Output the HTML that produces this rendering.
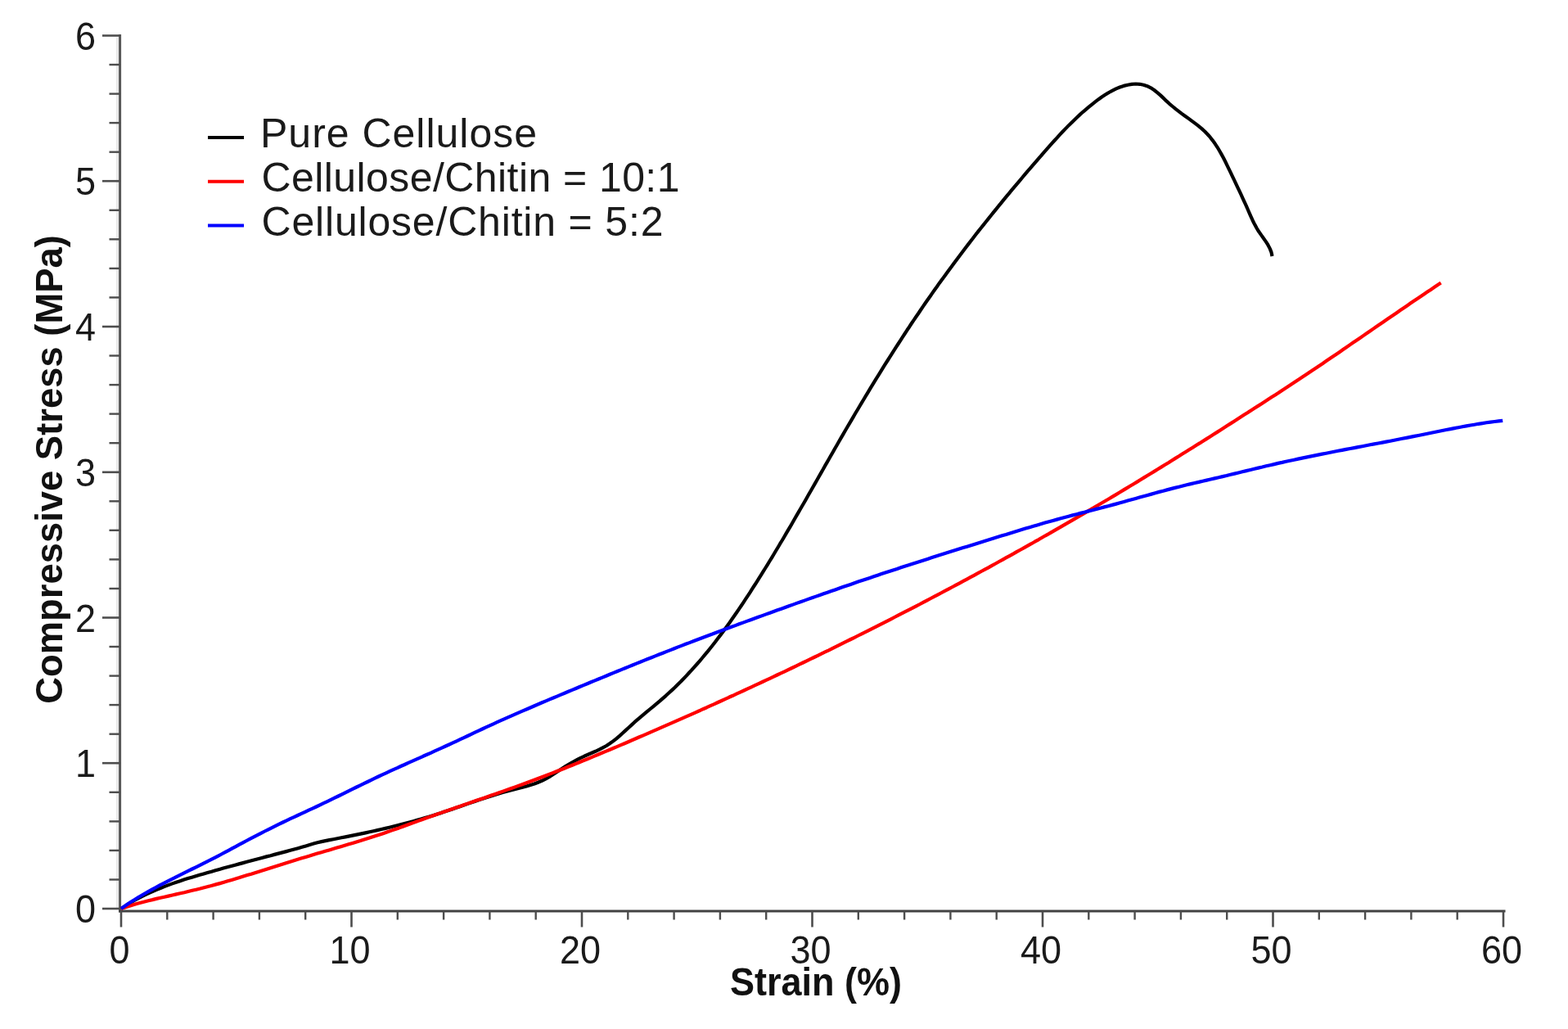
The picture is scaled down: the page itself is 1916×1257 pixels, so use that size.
<!DOCTYPE html>
<html><head><meta charset="utf-8"><title>Compressive stress-strain curves</title><style>
html,body{margin:0;padding:0;background:#fff;width:1916px;height:1257px;overflow:hidden}
svg{display:block}
.tl{font-family:"Liberation Sans",Arial,Helvetica,sans-serif;font-size:45px;fill:#1a1a1a}
.tt{font-family:"Liberation Sans",Arial,Helvetica,sans-serif;font-size:45px;font-weight:bold;fill:#111}
.lg{font-family:"Liberation Sans",Arial,Helvetica,sans-serif;font-size:50px;fill:#1a1a1a}
</style></head><body>
<svg width="1916" height="1257" viewBox="0 0 1916 1257">
<rect width="1916" height="1257" fill="#fff"/>
<g>
<line x1="143.4" y1="45.5" x2="143.4" y2="1111.0" stroke="#e9e9e9" stroke-width="3"/>
<line x1="146.6" y1="42.0" x2="146.6" y2="1114.5" stroke="#575757" stroke-width="3"/>
<line x1="145.1" y1="1113.0" x2="1839.5" y2="1113.0" stroke="#424242" stroke-width="2.8"/>
<line x1="125" y1="1110.0" x2="146.6" y2="1110.0" stroke="#4d4d4d" stroke-width="2.6"/>
<line x1="133.5" y1="1074.5" x2="146.6" y2="1074.5" stroke="#4d4d4d" stroke-width="2.4"/>
<line x1="133.5" y1="1038.9" x2="146.6" y2="1038.9" stroke="#4d4d4d" stroke-width="2.4"/>
<line x1="133.5" y1="1003.4" x2="146.6" y2="1003.4" stroke="#4d4d4d" stroke-width="2.4"/>
<line x1="133.5" y1="967.8" x2="146.6" y2="967.8" stroke="#4d4d4d" stroke-width="2.4"/>
<line x1="125" y1="932.2" x2="146.6" y2="932.2" stroke="#4d4d4d" stroke-width="2.6"/>
<line x1="133.5" y1="896.7" x2="146.6" y2="896.7" stroke="#4d4d4d" stroke-width="2.4"/>
<line x1="133.5" y1="861.1" x2="146.6" y2="861.1" stroke="#4d4d4d" stroke-width="2.4"/>
<line x1="133.5" y1="825.6" x2="146.6" y2="825.6" stroke="#4d4d4d" stroke-width="2.4"/>
<line x1="133.5" y1="790.0" x2="146.6" y2="790.0" stroke="#4d4d4d" stroke-width="2.4"/>
<line x1="125" y1="754.5" x2="146.6" y2="754.5" stroke="#4d4d4d" stroke-width="2.6"/>
<line x1="133.5" y1="719.0" x2="146.6" y2="719.0" stroke="#4d4d4d" stroke-width="2.4"/>
<line x1="133.5" y1="683.4" x2="146.6" y2="683.4" stroke="#4d4d4d" stroke-width="2.4"/>
<line x1="133.5" y1="647.8" x2="146.6" y2="647.8" stroke="#4d4d4d" stroke-width="2.4"/>
<line x1="133.5" y1="612.3" x2="146.6" y2="612.3" stroke="#4d4d4d" stroke-width="2.4"/>
<line x1="125" y1="576.8" x2="146.6" y2="576.8" stroke="#4d4d4d" stroke-width="2.6"/>
<line x1="133.5" y1="541.2" x2="146.6" y2="541.2" stroke="#4d4d4d" stroke-width="2.4"/>
<line x1="133.5" y1="505.6" x2="146.6" y2="505.6" stroke="#4d4d4d" stroke-width="2.4"/>
<line x1="133.5" y1="470.1" x2="146.6" y2="470.1" stroke="#4d4d4d" stroke-width="2.4"/>
<line x1="133.5" y1="434.5" x2="146.6" y2="434.5" stroke="#4d4d4d" stroke-width="2.4"/>
<line x1="125" y1="399.0" x2="146.6" y2="399.0" stroke="#4d4d4d" stroke-width="2.6"/>
<line x1="133.5" y1="363.4" x2="146.6" y2="363.4" stroke="#4d4d4d" stroke-width="2.4"/>
<line x1="133.5" y1="327.9" x2="146.6" y2="327.9" stroke="#4d4d4d" stroke-width="2.4"/>
<line x1="133.5" y1="292.3" x2="146.6" y2="292.3" stroke="#4d4d4d" stroke-width="2.4"/>
<line x1="133.5" y1="256.8" x2="146.6" y2="256.8" stroke="#4d4d4d" stroke-width="2.4"/>
<line x1="125" y1="221.2" x2="146.6" y2="221.2" stroke="#4d4d4d" stroke-width="2.6"/>
<line x1="133.5" y1="185.7" x2="146.6" y2="185.7" stroke="#4d4d4d" stroke-width="2.4"/>
<line x1="133.5" y1="150.1" x2="146.6" y2="150.1" stroke="#4d4d4d" stroke-width="2.4"/>
<line x1="133.5" y1="114.6" x2="146.6" y2="114.6" stroke="#4d4d4d" stroke-width="2.4"/>
<line x1="133.5" y1="79.0" x2="146.6" y2="79.0" stroke="#4d4d4d" stroke-width="2.4"/>
<line x1="125" y1="43.5" x2="146.6" y2="43.5" stroke="#4d4d4d" stroke-width="2.6"/>
<line x1="148.0" y1="1113.0" x2="148.0" y2="1132.5" stroke="#4d4d4d" stroke-width="2.6"/>
<line x1="204.3" y1="1113.0" x2="204.3" y2="1123.5" stroke="#4d4d4d" stroke-width="2.4"/>
<line x1="260.6" y1="1113.0" x2="260.6" y2="1123.5" stroke="#4d4d4d" stroke-width="2.4"/>
<line x1="316.9" y1="1113.0" x2="316.9" y2="1123.5" stroke="#4d4d4d" stroke-width="2.4"/>
<line x1="373.2" y1="1113.0" x2="373.2" y2="1123.5" stroke="#4d4d4d" stroke-width="2.4"/>
<line x1="429.5" y1="1113.0" x2="429.5" y2="1132.5" stroke="#4d4d4d" stroke-width="2.6"/>
<line x1="485.8" y1="1113.0" x2="485.8" y2="1123.5" stroke="#4d4d4d" stroke-width="2.4"/>
<line x1="542.1" y1="1113.0" x2="542.1" y2="1123.5" stroke="#4d4d4d" stroke-width="2.4"/>
<line x1="598.4" y1="1113.0" x2="598.4" y2="1123.5" stroke="#4d4d4d" stroke-width="2.4"/>
<line x1="654.7" y1="1113.0" x2="654.7" y2="1123.5" stroke="#4d4d4d" stroke-width="2.4"/>
<line x1="711.0" y1="1113.0" x2="711.0" y2="1132.5" stroke="#4d4d4d" stroke-width="2.6"/>
<line x1="767.3" y1="1113.0" x2="767.3" y2="1123.5" stroke="#4d4d4d" stroke-width="2.4"/>
<line x1="823.6" y1="1113.0" x2="823.6" y2="1123.5" stroke="#4d4d4d" stroke-width="2.4"/>
<line x1="879.9" y1="1113.0" x2="879.9" y2="1123.5" stroke="#4d4d4d" stroke-width="2.4"/>
<line x1="936.2" y1="1113.0" x2="936.2" y2="1123.5" stroke="#4d4d4d" stroke-width="2.4"/>
<line x1="992.5" y1="1113.0" x2="992.5" y2="1132.5" stroke="#4d4d4d" stroke-width="2.6"/>
<line x1="1048.8" y1="1113.0" x2="1048.8" y2="1123.5" stroke="#4d4d4d" stroke-width="2.4"/>
<line x1="1105.1" y1="1113.0" x2="1105.1" y2="1123.5" stroke="#4d4d4d" stroke-width="2.4"/>
<line x1="1161.4" y1="1113.0" x2="1161.4" y2="1123.5" stroke="#4d4d4d" stroke-width="2.4"/>
<line x1="1217.7" y1="1113.0" x2="1217.7" y2="1123.5" stroke="#4d4d4d" stroke-width="2.4"/>
<line x1="1274.0" y1="1113.0" x2="1274.0" y2="1132.5" stroke="#4d4d4d" stroke-width="2.6"/>
<line x1="1330.3" y1="1113.0" x2="1330.3" y2="1123.5" stroke="#4d4d4d" stroke-width="2.4"/>
<line x1="1386.6" y1="1113.0" x2="1386.6" y2="1123.5" stroke="#4d4d4d" stroke-width="2.4"/>
<line x1="1442.9" y1="1113.0" x2="1442.9" y2="1123.5" stroke="#4d4d4d" stroke-width="2.4"/>
<line x1="1499.2" y1="1113.0" x2="1499.2" y2="1123.5" stroke="#4d4d4d" stroke-width="2.4"/>
<line x1="1555.5" y1="1113.0" x2="1555.5" y2="1132.5" stroke="#4d4d4d" stroke-width="2.6"/>
<line x1="1611.8" y1="1113.0" x2="1611.8" y2="1123.5" stroke="#4d4d4d" stroke-width="2.4"/>
<line x1="1668.1" y1="1113.0" x2="1668.1" y2="1123.5" stroke="#4d4d4d" stroke-width="2.4"/>
<line x1="1724.4" y1="1113.0" x2="1724.4" y2="1123.5" stroke="#4d4d4d" stroke-width="2.4"/>
<line x1="1780.7" y1="1113.0" x2="1780.7" y2="1123.5" stroke="#4d4d4d" stroke-width="2.4"/>
<line x1="1837.0" y1="1113.0" x2="1837.0" y2="1132.5" stroke="#4d4d4d" stroke-width="2.6"/>
<text transform="translate(117,1127.0) scale(1,1.05)" class="tl" text-anchor="end">0</text>
<text transform="translate(117,949.2) scale(1,1.05)" class="tl" text-anchor="end">1</text>
<text transform="translate(117,771.5) scale(1,1.05)" class="tl" text-anchor="end">2</text>
<text transform="translate(117,593.8) scale(1,1.05)" class="tl" text-anchor="end">3</text>
<text transform="translate(117,416.0) scale(1,1.05)" class="tl" text-anchor="end">4</text>
<text transform="translate(117,238.2) scale(1,1.05)" class="tl" text-anchor="end">5</text>
<text transform="translate(117,60.5) scale(1,1.05)" class="tl" text-anchor="end">6</text>
<text transform="translate(146.0,1177) scale(1,1.05)" class="tl" text-anchor="middle">0</text>
<text transform="translate(427.5,1177) scale(1,1.05)" class="tl" text-anchor="middle">10</text>
<text transform="translate(709.0,1177) scale(1,1.05)" class="tl" text-anchor="middle">20</text>
<text transform="translate(990.5,1177) scale(1,1.05)" class="tl" text-anchor="middle">30</text>
<text transform="translate(1272.0,1177) scale(1,1.05)" class="tl" text-anchor="middle">40</text>
<text transform="translate(1553.5,1177) scale(1,1.05)" class="tl" text-anchor="middle">50</text>
<text transform="translate(1835.0,1177) scale(1,1.05)" class="tl" text-anchor="middle">60</text>
<text transform="translate(997,1215.5) scale(1,1.05)" class="tt" text-anchor="middle">Strain (%)</text>
<text transform="translate(76,573.5) rotate(-90)" x="0" y="0" class="tt" style="font-size:45.4px" text-anchor="middle">Compressive Stress (MPa)</text>
<path d="M148.0,1110.0 L152.2,1107.2 L156.4,1104.5 L160.7,1102.0 L165.0,1099.5 L169.4,1097.1 L173.8,1094.9 L178.3,1092.7 L182.8,1090.6 L187.4,1088.5 L192.0,1086.6 L196.6,1084.7 L201.2,1082.9 L205.9,1081.1 L210.6,1079.4 L215.3,1077.8 L220.1,1076.2 L224.8,1074.6 L229.6,1073.1 L234.4,1071.7 L239.2,1070.2 L244.0,1068.8 L248.8,1067.4 L253.6,1066.0 L258.5,1064.7 L263.3,1063.3 L268.1,1062.0 L272.9,1060.6 L277.7,1059.3 L282.5,1058.0 L287.3,1056.7 L292.1,1055.4 L296.9,1054.1 L301.7,1052.8 L306.5,1051.5 L311.3,1050.2 L316.1,1049.0 L320.9,1047.7 L325.7,1046.4 L330.6,1045.2 L335.4,1043.9 L340.2,1042.6 L345.0,1041.4 L349.8,1040.1 L354.6,1038.8 L359.4,1037.5 L364.2,1036.2 L369.0,1034.8 L373.7,1033.4 L378.4,1032.0 L383.2,1030.6 L387.9,1029.3 L392.8,1028.1 L397.6,1027.1 L402.5,1026.1 L407.4,1025.2 L412.3,1024.2 L417.2,1023.3 L422.1,1022.4 L427.0,1021.4 L431.9,1020.4 L436.8,1019.4 L441.7,1018.4 L446.6,1017.4 L451.5,1016.3 L456.4,1015.2 L461.3,1014.1 L466.1,1013.0 L471.0,1011.9 L475.9,1010.7 L480.7,1009.5 L485.6,1008.3 L490.4,1007.1 L495.2,1005.8 L500.1,1004.5 L504.9,1003.2 L509.7,1001.9 L514.5,1000.5 L519.3,999.1 L524.1,997.7 L528.9,996.2 L533.6,994.7 L538.4,993.2 L543.1,991.6 L547.9,990.0 L552.6,988.4 L557.3,986.8 L562.0,985.2 L566.8,983.6 L571.5,981.9 L576.2,980.3 L580.9,978.7 L585.7,977.1 L590.4,975.5 L595.1,974.0 L599.9,972.4 L604.7,970.9 L609.5,969.5 L614.3,968.0 L619.1,966.7 L623.9,965.4 L628.8,964.1 L633.6,962.9 L638.5,961.6 L643.3,960.4 L648.1,959.0 L652.9,957.5 L657.5,955.7 L662.1,953.8 L666.5,951.6 L670.9,949.2 L675.1,946.5 L679.3,943.8 L683.5,941.0 L687.7,938.2 L691.9,935.5 L696.2,933.0 L700.6,930.5 L705.0,928.2 L709.4,925.9 L713.9,923.8 L718.5,921.8 L723.1,919.8 L727.7,917.8 L732.2,915.7 L736.6,913.4 L741.0,911.0 L745.1,908.3 L749.2,905.4 L753.1,902.3 L756.9,899.1 L760.6,895.8 L764.3,892.4 L768.0,889.0 L771.7,885.6 L775.4,882.2 L779.2,878.9 L783.1,875.6 L786.9,872.4 L790.8,869.2 L794.6,866.0 L798.5,862.8 L802.3,859.6 L806.2,856.4 L809.9,853.1 L813.7,849.8 L817.3,846.5 L821.0,843.1 L824.6,839.7 L828.1,836.2 L831.7,832.7 L835.1,829.2 L838.6,825.6 L841.9,822.0 L845.3,818.4 L848.6,814.7 L851.9,811.0 L855.1,807.3 L858.3,803.5 L861.5,799.7 L864.7,795.9 L867.8,792.0 L870.8,788.2 L873.9,784.3 L876.9,780.3 L879.9,776.4 L882.9,772.4 L885.8,768.4 L888.7,764.4 L891.6,760.4 L894.5,756.3 L897.3,752.3 L900.1,748.2 L902.9,744.1 L905.7,740.0 L908.5,735.8 L911.2,731.7 L913.9,727.6 L916.7,723.4 L919.3,719.2 L922.0,715.0 L924.7,710.8 L927.3,706.6 L930.0,702.4 L932.6,698.2 L935.2,694.0 L937.8,689.8 L940.4,685.5 L943.0,681.3 L945.6,677.0 L948.1,672.8 L950.7,668.5 L953.2,664.2 L955.8,660.0 L958.3,655.7 L960.8,651.4 L963.3,647.1 L965.9,642.8 L968.4,638.5 L970.8,634.2 L973.3,629.9 L975.8,625.6 L978.3,621.3 L980.8,617.0 L983.3,612.7 L985.7,608.4 L988.2,604.0 L990.7,599.7 L993.1,595.4 L995.6,591.1 L998.1,586.7 L1000.5,582.4 L1003.0,578.1 L1005.5,573.8 L1007.9,569.4 L1010.4,565.1 L1012.9,560.8 L1015.3,556.5 L1017.8,552.2 L1020.3,547.8 L1022.8,543.5 L1025.2,539.2 L1027.7,534.9 L1030.2,530.6 L1032.7,526.3 L1035.2,522.0 L1037.8,517.7 L1040.3,513.4 L1042.8,509.1 L1045.3,504.8 L1047.9,500.5 L1050.4,496.2 L1053.0,491.9 L1055.5,487.7 L1058.1,483.4 L1060.7,479.1 L1063.2,474.9 L1065.8,470.6 L1068.4,466.4 L1071.0,462.1 L1073.7,457.9 L1076.3,453.7 L1078.9,449.4 L1081.5,445.2 L1084.2,441.0 L1086.8,436.8 L1089.5,432.6 L1092.2,428.4 L1094.9,424.2 L1097.6,420.0 L1100.3,415.8 L1103.0,411.6 L1105.7,407.5 L1108.4,403.3 L1111.2,399.2 L1113.9,395.0 L1116.7,390.9 L1119.5,386.8 L1122.3,382.7 L1125.1,378.5 L1127.9,374.4 L1130.7,370.3 L1133.5,366.3 L1136.4,362.2 L1139.2,358.1 L1142.1,354.0 L1145.0,350.0 L1147.8,345.9 L1150.7,341.9 L1153.7,337.9 L1156.6,333.9 L1159.5,329.9 L1162.5,325.9 L1165.4,321.9 L1168.4,317.9 L1171.4,313.9 L1174.4,310.0 L1177.4,306.0 L1180.4,302.0 L1183.4,298.1 L1186.4,294.2 L1189.5,290.2 L1192.5,286.3 L1195.6,282.4 L1198.7,278.5 L1201.8,274.6 L1204.9,270.7 L1208.0,266.9 L1211.1,263.0 L1214.2,259.1 L1217.3,255.3 L1220.5,251.4 L1223.6,247.6 L1226.8,243.7 L1229.9,239.9 L1233.1,236.1 L1236.3,232.2 L1239.5,228.4 L1242.7,224.6 L1245.9,220.8 L1249.1,217.0 L1252.3,213.2 L1255.5,209.4 L1258.8,205.7 L1262.0,201.9 L1265.3,198.1 L1268.5,194.3 L1271.8,190.6 L1275.0,186.8 L1278.3,183.1 L1281.6,179.4 L1284.9,175.6 L1288.2,172.0 L1291.6,168.3 L1294.9,164.6 L1298.3,161.0 L1301.8,157.4 L1305.2,153.9 L1308.7,150.4 L1312.3,146.9 L1315.9,143.5 L1319.5,140.1 L1323.2,136.8 L1327.0,133.6 L1330.8,130.4 L1334.6,127.3 L1338.6,124.2 L1342.5,121.2 L1346.6,118.3 L1350.8,115.6 L1355.0,113.0 L1359.4,110.6 L1363.8,108.4 L1368.4,106.5 L1373.1,104.9 L1378.0,103.7 L1382.9,102.9 L1387.8,102.5 L1392.6,102.8 L1397.4,103.7 L1401.9,105.2 L1406.2,107.3 L1410.3,110.0 L1414.2,113.1 L1418.0,116.4 L1421.7,119.9 L1425.3,123.4 L1429.0,126.8 L1432.8,130.0 L1436.6,133.1 L1440.5,136.1 L1444.4,139.1 L1448.4,142.0 L1452.5,144.9 L1456.5,147.9 L1460.6,150.9 L1464.5,153.9 L1468.4,157.1 L1472.1,160.5 L1475.5,164.0 L1478.8,167.7 L1481.8,171.6 L1484.7,175.6 L1487.5,179.8 L1490.0,184.0 L1492.5,188.4 L1494.9,192.8 L1497.2,197.3 L1499.4,201.8 L1501.6,206.3 L1503.8,210.9 L1505.9,215.4 L1508.1,219.9 L1510.2,224.4 L1512.3,228.9 L1514.5,233.4 L1516.6,237.9 L1518.6,242.4 L1520.7,246.9 L1522.8,251.4 L1524.8,256.0 L1526.8,260.6 L1528.8,265.1 L1530.9,269.7 L1533.1,274.1 L1535.5,278.5 L1538.1,282.8 L1541.0,286.9 L1543.9,291.0 L1546.8,295.1 L1549.4,299.2 L1551.7,303.6 L1553.5,308.1 L1554.5,313.0" fill="none" stroke="#000000" stroke-width="4.2" stroke-linejoin="round" stroke-linecap="butt"/>
<path d="M148.0,1110.0 L152.7,1108.4 L157.4,1106.9 L162.2,1105.4 L167.0,1104.0 L171.8,1102.7 L176.6,1101.5 L181.4,1100.2 L186.3,1099.1 L191.1,1097.9 L196.0,1096.8 L200.8,1095.7 L205.7,1094.6 L210.6,1093.5 L215.4,1092.4 L220.3,1091.3 L225.2,1090.2 L230.0,1089.0 L234.9,1087.8 L239.7,1086.7 L244.6,1085.5 L249.4,1084.2 L254.2,1083.0 L259.1,1081.7 L263.9,1080.4 L268.7,1079.1 L273.5,1077.7 L278.3,1076.3 L283.0,1074.9 L287.8,1073.5 L292.6,1072.1 L297.3,1070.6 L302.1,1069.1 L306.9,1067.7 L311.6,1066.2 L316.4,1064.7 L321.1,1063.2 L325.9,1061.7 L330.6,1060.2 L335.4,1058.7 L340.1,1057.2 L344.9,1055.7 L349.6,1054.2 L354.4,1052.7 L359.2,1051.2 L363.9,1049.8 L368.7,1048.3 L373.5,1046.9 L378.3,1045.5 L383.0,1044.0 L387.8,1042.6 L392.6,1041.2 L397.4,1039.8 L402.2,1038.4 L406.9,1037.0 L411.7,1035.6 L416.5,1034.2 L421.3,1032.8 L426.1,1031.3 L430.8,1029.9 L435.6,1028.4 L440.4,1027.0 L445.1,1025.5 L449.9,1024.0 L454.6,1022.5 L459.3,1021.0 L464.1,1019.4 L468.8,1017.9 L473.5,1016.3 L478.2,1014.6 L482.9,1013.0 L487.6,1011.4 L492.2,1009.7 L496.9,1008.0 L501.6,1006.3 L506.3,1004.6 L511.0,1002.9 L515.6,1001.2 L520.3,999.6 L525.0,997.9 L529.7,996.2 L534.4,994.6 L539.1,992.9 L543.8,991.3 L548.5,989.6 L553.3,988.0 L558.0,986.3 L562.7,984.7 L567.4,983.1 L572.1,981.4 L576.8,979.8 L581.6,978.1 L586.3,976.5 L591.0,974.9 L595.7,973.2 L600.4,971.6 L605.2,969.9 L609.9,968.3 L614.6,966.6 L619.3,964.9 L624.0,963.3 L628.7,961.6 L633.4,959.9 L638.1,958.2 L642.8,956.5 L647.5,954.7 L652.2,953.0 L656.8,951.3 L661.5,949.5 L666.2,947.7 L670.8,945.9 L675.5,944.1 L680.1,942.3 L684.8,940.5 L689.4,938.7 L694.0,936.8 L698.7,935.0 L703.3,933.1 L707.9,931.2 L712.5,929.3 L717.1,927.5 L721.7,925.6 L726.3,923.6 L730.9,921.7 L735.5,919.8 L740.1,917.9 L744.7,916.0 L749.3,914.0 L753.9,912.1 L758.5,910.1 L763.1,908.2 L767.7,906.2 L772.2,904.3 L776.8,902.3 L781.4,900.3 L786.0,898.4 L790.6,896.4 L795.1,894.4 L799.7,892.4 L804.3,890.4 L808.8,888.4 L813.4,886.4 L818.0,884.4 L822.6,882.4 L827.1,880.4 L831.7,878.4 L836.2,876.4 L840.8,874.4 L845.4,872.3 L849.9,870.3 L854.5,868.3 L859.0,866.2 L863.6,864.2 L868.1,862.1 L872.7,860.1 L877.2,858.0 L881.7,856.0 L886.3,853.9 L890.8,851.8 L895.4,849.8 L899.9,847.7 L904.4,845.6 L909.0,843.5 L913.5,841.4 L918.0,839.3 L922.6,837.2 L927.1,835.1 L931.6,833.0 L936.1,830.9 L940.6,828.8 L945.2,826.7 L949.7,824.5 L954.2,822.4 L958.7,820.3 L963.2,818.1 L967.7,816.0 L972.2,813.8 L976.7,811.7 L981.2,809.5 L985.7,807.3 L990.2,805.2 L994.7,803.0 L999.2,800.8 L1003.7,798.6 L1008.2,796.4 L1012.7,794.3 L1017.1,792.1 L1021.6,789.9 L1026.1,787.6 L1030.6,785.4 L1035.1,783.2 L1039.5,781.0 L1044.0,778.8 L1048.5,776.5 L1052.9,774.3 L1057.4,772.1 L1061.9,769.8 L1066.3,767.6 L1070.8,765.3 L1075.2,763.1 L1079.7,760.8 L1084.1,758.6 L1088.6,756.3 L1093.0,754.0 L1097.5,751.7 L1101.9,749.4 L1106.3,747.2 L1110.8,744.9 L1115.2,742.6 L1119.6,740.3 L1124.1,738.0 L1128.5,735.6 L1132.9,733.3 L1137.3,731.0 L1141.8,728.7 L1146.2,726.4 L1150.6,724.0 L1155.0,721.7 L1159.4,719.3 L1163.8,717.0 L1168.2,714.6 L1172.6,712.3 L1177.0,709.9 L1181.4,707.6 L1185.8,705.2 L1190.2,702.8 L1194.6,700.4 L1199.0,698.0 L1203.4,695.7 L1207.8,693.3 L1212.1,690.9 L1216.5,688.5 L1220.9,686.0 L1225.3,683.6 L1229.6,681.2 L1234.0,678.8 L1238.4,676.4 L1242.7,673.9 L1247.1,671.5 L1251.4,669.1 L1255.8,666.6 L1260.2,664.2 L1264.5,661.7 L1268.9,659.3 L1273.2,656.8 L1277.5,654.3 L1281.9,651.9 L1286.2,649.4 L1290.5,646.9 L1294.9,644.4 L1299.2,641.9 L1303.5,639.4 L1307.9,636.9 L1312.2,634.4 L1316.5,631.9 L1320.8,629.4 L1325.1,626.9 L1329.4,624.4 L1333.7,621.9 L1338.0,619.3 L1342.3,616.8 L1346.6,614.3 L1350.9,611.7 L1355.2,609.2 L1359.5,606.6 L1363.8,604.1 L1368.1,601.5 L1372.4,598.9 L1376.6,596.4 L1380.9,593.8 L1385.2,591.2 L1389.5,588.6 L1393.7,586.0 L1398.0,583.4 L1402.3,580.8 L1406.5,578.2 L1410.8,575.6 L1415.0,573.0 L1419.3,570.4 L1423.5,567.8 L1427.8,565.2 L1432.0,562.5 L1436.2,559.9 L1440.5,557.3 L1444.7,554.6 L1448.9,552.0 L1453.2,549.3 L1457.4,546.7 L1461.6,544.0 L1465.9,541.4 L1470.1,538.7 L1474.3,536.1 L1478.5,533.4 L1482.7,530.7 L1486.9,528.1 L1491.1,525.4 L1495.3,522.7 L1499.5,520.0 L1503.7,517.4 L1507.9,514.7 L1512.1,512.0 L1516.3,509.3 L1520.5,506.6 L1524.7,503.9 L1528.9,501.2 L1533.1,498.5 L1537.3,495.9 L1541.5,493.2 L1545.7,490.5 L1549.8,487.8 L1554.0,485.1 L1558.2,482.4 L1562.4,479.7 L1566.5,476.9 L1570.7,474.2 L1574.9,471.5 L1579.0,468.8 L1583.2,466.0 L1587.4,463.3 L1591.5,460.6 L1595.7,457.8 L1599.8,455.0 L1603.9,452.3 L1608.1,449.5 L1612.2,446.7 L1616.4,443.9 L1620.5,441.1 L1624.6,438.3 L1628.7,435.5 L1632.9,432.7 L1637.0,429.9 L1641.1,427.1 L1645.2,424.3 L1649.3,421.4 L1653.4,418.6 L1657.6,415.8 L1661.7,413.0 L1665.8,410.1 L1669.9,407.3 L1674.0,404.5 L1678.1,401.6 L1682.2,398.8 L1686.3,396.0 L1690.4,393.2 L1694.6,390.3 L1698.7,387.5 L1702.8,384.7 L1706.9,381.9 L1711.0,379.0 L1715.2,376.2 L1719.3,373.4 L1723.4,370.6 L1727.5,367.8 L1731.7,365.0 L1735.8,362.2 L1739.9,359.4 L1744.1,356.6 L1748.2,353.9 L1752.4,351.1 L1756.5,348.3 L1760.7,345.6" fill="none" stroke="#ff0000" stroke-width="4.2" stroke-linejoin="round" stroke-linecap="butt"/>
<path d="M148.0,1110.0 L152.1,1107.1 L156.2,1104.3 L160.4,1101.6 L164.6,1098.9 L168.8,1096.3 L173.1,1093.8 L177.4,1091.3 L181.7,1088.8 L186.1,1086.4 L190.5,1084.0 L194.8,1081.7 L199.3,1079.4 L203.7,1077.1 L208.1,1074.8 L212.6,1072.6 L217.0,1070.3 L221.5,1068.1 L226.0,1065.9 L230.5,1063.7 L234.9,1061.5 L239.4,1059.3 L243.9,1057.1 L248.3,1054.9 L252.8,1052.6 L257.2,1050.4 L261.7,1048.1 L266.1,1045.8 L270.5,1043.5 L274.9,1041.1 L279.3,1038.8 L283.7,1036.4 L288.1,1034.1 L292.5,1031.7 L296.9,1029.4 L301.3,1027.0 L305.7,1024.7 L310.1,1022.4 L314.5,1020.1 L318.9,1017.8 L323.4,1015.5 L327.8,1013.3 L332.3,1011.1 L336.7,1008.9 L341.2,1006.7 L345.7,1004.5 L350.2,1002.4 L354.7,1000.2 L359.3,998.1 L363.8,996.0 L368.3,993.9 L372.8,991.8 L377.3,989.7 L381.9,987.6 L386.4,985.5 L390.9,983.3 L395.4,981.2 L399.9,979.1 L404.4,976.9 L408.9,974.7 L413.4,972.5 L417.8,970.3 L422.3,968.1 L426.8,965.9 L431.3,963.7 L435.7,961.5 L440.2,959.4 L444.7,957.2 L449.2,955.0 L453.6,952.8 L458.1,950.7 L462.6,948.5 L467.1,946.4 L471.7,944.3 L476.2,942.2 L480.7,940.1 L485.3,938.1 L489.8,936.0 L494.4,934.0 L498.9,931.9 L503.5,929.9 L508.0,927.9 L512.6,925.9 L517.1,923.8 L521.7,921.8 L526.2,919.8 L530.8,917.7 L535.3,915.7 L539.8,913.6 L544.4,911.5 L548.9,909.5 L553.4,907.4 L557.9,905.3 L562.4,903.2 L566.9,901.1 L571.4,899.0 L575.9,896.8 L580.4,894.7 L584.9,892.6 L589.4,890.5 L593.9,888.4 L598.4,886.3 L602.9,884.3 L607.5,882.2 L612.0,880.2 L616.6,878.1 L621.1,876.1 L625.7,874.1 L630.2,872.1 L634.8,870.1 L639.4,868.1 L643.9,866.2 L648.5,864.2 L653.1,862.2 L657.7,860.3 L662.3,858.3 L666.9,856.4 L671.5,854.4 L676.1,852.5 L680.7,850.6 L685.3,848.6 L689.9,846.7 L694.5,844.8 L699.1,842.9 L703.7,841.0 L708.3,839.0 L712.9,837.1 L717.5,835.2 L722.1,833.3 L726.8,831.4 L731.4,829.5 L736.0,827.6 L740.6,825.7 L745.2,823.8 L749.8,821.9 L754.4,820.0 L759.1,818.1 L763.7,816.2 L768.3,814.4 L772.9,812.5 L777.5,810.6 L782.2,808.8 L786.8,806.9 L791.4,805.0 L796.1,803.2 L800.7,801.4 L805.3,799.5 L810.0,797.7 L814.6,795.9 L819.2,794.1 L823.9,792.2 L828.5,790.4 L833.2,788.6 L837.8,786.8 L842.5,785.1 L847.2,783.3 L851.8,781.5 L856.5,779.7 L861.1,778.0 L865.8,776.2 L870.5,774.5 L875.1,772.7 L879.8,771.0 L884.5,769.2 L889.2,767.5 L893.8,765.8 L898.5,764.1 L903.2,762.3 L907.9,760.6 L912.6,758.9 L917.2,757.2 L921.9,755.5 L926.6,753.8 L931.3,752.1 L936.0,750.4 L940.7,748.7 L945.4,747.0 L950.0,745.3 L954.7,743.7 L959.4,742.0 L964.1,740.3 L968.8,738.6 L973.5,736.9 L978.2,735.3 L982.9,733.6 L987.6,731.9 L992.3,730.3 L997.0,728.6 L1001.7,727.0 L1006.4,725.3 L1011.1,723.7 L1015.8,722.0 L1020.5,720.4 L1025.2,718.7 L1029.9,717.1 L1034.6,715.5 L1039.3,713.9 L1044.0,712.2 L1048.7,710.6 L1053.5,709.0 L1058.2,707.4 L1062.9,705.9 L1067.6,704.3 L1072.4,702.7 L1077.1,701.1 L1081.8,699.6 L1086.6,698.0 L1091.3,696.4 L1096.1,694.9 L1100.8,693.3 L1105.5,691.8 L1110.3,690.3 L1115.0,688.7 L1119.8,687.2 L1124.5,685.7 L1129.3,684.2 L1134.0,682.7 L1138.8,681.1 L1143.6,679.6 L1148.3,678.1 L1153.1,676.6 L1157.8,675.1 L1162.6,673.6 L1167.4,672.1 L1172.1,670.6 L1176.9,669.1 L1181.6,667.7 L1186.4,666.2 L1191.2,664.7 L1195.9,663.2 L1200.7,661.7 L1205.4,660.2 L1210.2,658.8 L1215.0,657.3 L1219.7,655.8 L1224.5,654.3 L1229.3,652.9 L1234.0,651.4 L1238.8,649.9 L1243.6,648.5 L1248.3,647.1 L1253.1,645.6 L1257.9,644.2 L1262.7,642.8 L1267.4,641.4 L1272.2,640.0 L1277.0,638.6 L1281.8,637.3 L1286.6,635.9 L1291.4,634.6 L1296.2,633.3 L1301.0,632.0 L1305.8,630.7 L1310.7,629.4 L1315.5,628.2 L1320.3,626.9 L1325.1,625.7 L1330.0,624.4 L1334.8,623.2 L1339.6,621.9 L1344.4,620.7 L1349.3,619.4 L1354.1,618.2 L1358.9,616.9 L1363.7,615.6 L1368.5,614.3 L1373.3,613.0 L1378.1,611.6 L1382.9,610.3 L1387.7,609.0 L1392.5,607.6 L1397.3,606.3 L1402.1,604.9 L1406.9,603.6 L1411.7,602.2 L1416.5,600.9 L1421.3,599.7 L1426.1,598.4 L1430.9,597.1 L1435.7,595.9 L1440.6,594.7 L1445.4,593.5 L1450.2,592.3 L1455.1,591.1 L1459.9,590.0 L1464.8,588.9 L1469.6,587.7 L1474.5,586.6 L1479.3,585.5 L1484.2,584.4 L1489.1,583.3 L1493.9,582.1 L1498.8,581.0 L1503.6,579.8 L1508.5,578.6 L1513.3,577.5 L1518.1,576.3 L1523.0,575.1 L1527.8,574.0 L1532.7,572.8 L1537.5,571.6 L1542.4,570.5 L1547.2,569.3 L1552.1,568.2 L1556.9,567.1 L1561.8,565.9 L1566.7,564.9 L1571.5,563.8 L1576.4,562.7 L1581.3,561.7 L1586.2,560.6 L1591.0,559.6 L1595.9,558.6 L1600.8,557.6 L1605.7,556.6 L1610.6,555.6 L1615.5,554.6 L1620.4,553.7 L1625.3,552.7 L1630.2,551.8 L1635.1,550.8 L1640.0,549.9 L1644.9,548.9 L1649.8,548.0 L1654.7,547.1 L1659.6,546.1 L1664.5,545.2 L1669.4,544.3 L1674.3,543.3 L1679.2,542.4 L1684.1,541.5 L1689.0,540.6 L1693.9,539.6 L1698.8,538.7 L1703.7,537.7 L1708.6,536.8 L1713.5,535.8 L1718.4,534.9 L1723.3,533.9 L1728.2,532.9 L1733.1,532.0 L1738.0,531.0 L1742.9,530.0 L1747.7,529.0 L1752.6,528.0 L1757.5,527.0 L1762.4,526.0 L1767.3,525.0 L1772.2,524.1 L1777.1,523.1 L1782.0,522.2 L1786.9,521.3 L1791.8,520.4 L1796.7,519.5 L1801.6,518.7 L1806.5,517.8 L1811.4,517.1 L1816.4,516.3 L1821.3,515.6 L1826.3,515.0 L1831.2,514.4 L1836.2,513.8" fill="none" stroke="#0000ff" stroke-width="4.2" stroke-linejoin="round" stroke-linecap="butt"/>
<line x1="254" y1="168" x2="298" y2="168" stroke="#000000" stroke-width="4.0"/>
<text x="318" y="180.3" class="lg" textLength="338" lengthAdjust="spacing">Pure Cellulose</text>
<line x1="254" y1="221.7" x2="298" y2="221.7" stroke="#ff0000" stroke-width="4.0"/>
<text x="319.5" y="234.3" class="lg" textLength="511" lengthAdjust="spacing">Cellulose/Chitin = 10:1</text>
<line x1="254" y1="275.6" x2="298" y2="275.6" stroke="#0000ff" stroke-width="4.0"/>
<text x="319.5" y="288" class="lg" textLength="491" lengthAdjust="spacing">Cellulose/Chitin = 5:2</text>
</g>
</svg>
</body></html>
